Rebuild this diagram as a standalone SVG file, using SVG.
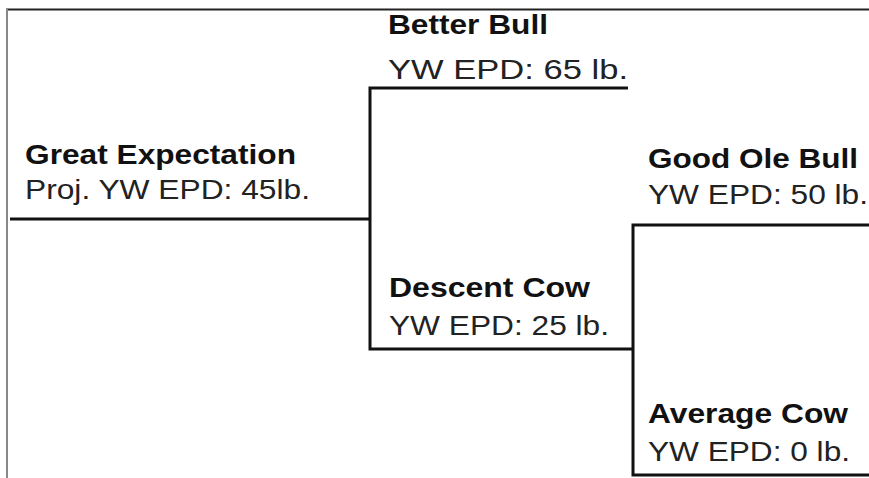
<svg xmlns="http://www.w3.org/2000/svg" width="869" height="478" viewBox="0 0 869 478">
<style>
.n{font-family:"Liberation Sans",Arial,sans-serif;font-weight:bold;font-size:28px;fill:#111}
.d{font-family:"Liberation Sans",Arial,sans-serif;font-size:27px;fill:#222}
.c{stroke:#111;stroke-width:3;fill:none}
</style>
<rect width="869" height="478" fill="#fff"/>
<g id="frame">
<line x1="6" y1="9.5" x2="869" y2="9.5" stroke="#222" stroke-width="2"/>
<line x1="7" y1="9" x2="7" y2="478" stroke="#888" stroke-width="2"/>
</g>
<g id="connectors">
<polyline class="c" points="10,219 370,219"/>
<polyline class="c" points="628,88 370,88 370,349 633,349"/>
<polyline class="c" points="869,225 633,225 633,475 869,475"/>
</g>
<g id="great-expectation">
<text class="n" x="25" y="164" textLength="271" lengthAdjust="spacingAndGlyphs">Great Expectation</text>
<text class="d" x="25" y="199" textLength="285" lengthAdjust="spacingAndGlyphs">Proj. YW EPD: 45lb.</text>
</g>
<g id="better-bull">
<text class="n" x="388" y="34" textLength="160" lengthAdjust="spacingAndGlyphs">Better Bull</text>
<text class="d" x="388" y="79" textLength="240" lengthAdjust="spacingAndGlyphs">YW EPD: 65 lb.</text>
</g>
<g id="descent-cow">
<text class="n" x="389" y="297" textLength="201" lengthAdjust="spacingAndGlyphs">Descent Cow</text>
<text class="d" x="389" y="335" textLength="220" lengthAdjust="spacingAndGlyphs">YW EPD: 25 lb.</text>
</g>
<g id="good-ole-bull">
<text class="n" x="648" y="168" textLength="210" lengthAdjust="spacingAndGlyphs">Good Ole Bull</text>
<text class="d" x="648" y="204" textLength="220" lengthAdjust="spacingAndGlyphs">YW EPD: 50 lb.</text>
</g>
<g id="average-cow">
<text class="n" x="648" y="423" textLength="200" lengthAdjust="spacingAndGlyphs">Average Cow</text>
<text class="d" x="648" y="461" textLength="202" lengthAdjust="spacingAndGlyphs">YW EPD: 0 lb.</text>
</g>
</svg>
